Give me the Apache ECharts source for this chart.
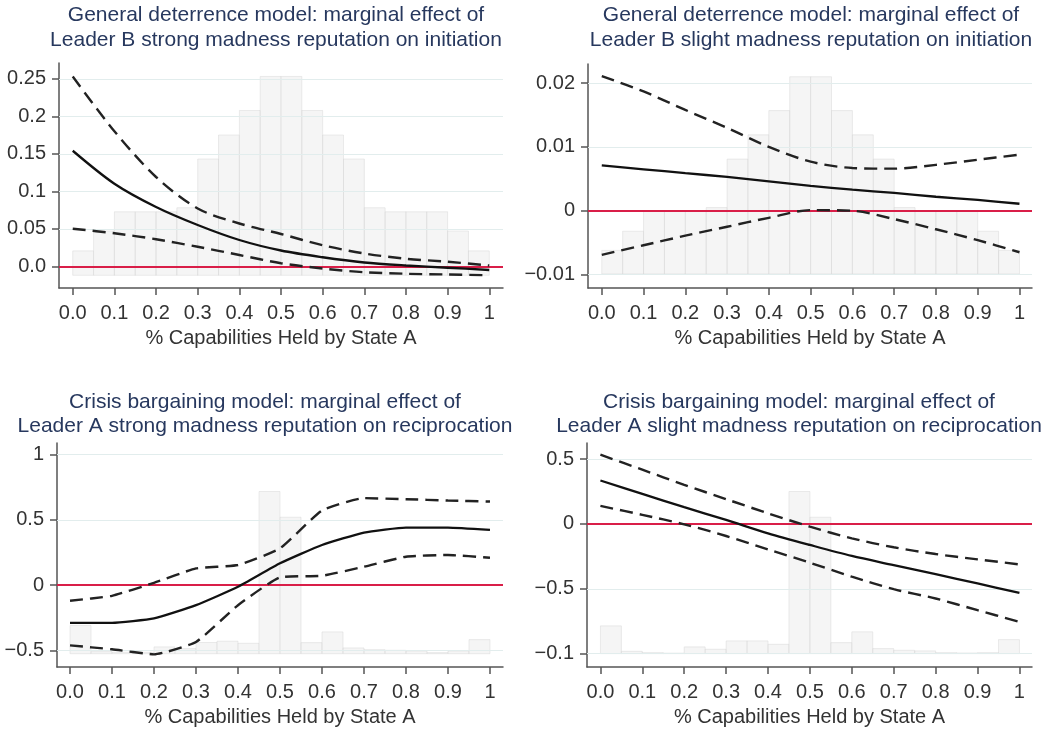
<!DOCTYPE html>
<html>
<head>
  <meta charset="utf-8">
  <title></title>
  <script src="https://cdn.jsdelivr.net/npm/echarts@6/dist/echarts.min.js"></script>
  <style>
    html, body {
      margin: 0;
      padding: 0;
      background: #fff;
    }

    #main {
      width: 1061px;
      height: 732px;
    }
  </style>
</head>
<body>
<div id="main"></div>
<script>
  // x positions of the fitted points
  var xs = [0, 0.1, 0.2, 0.3, 0.4, 0.5, 0.6, 0.7, 0.8, 0.9, 1];
  var xTicks = [0, 0.1, 0.2, 0.3, 0.4, 0.5, 0.6, 0.7, 0.8, 0.9, 1];
  var xTickLabels = ['0.0', '0.1', '0.2', '0.3', '0.4', '0.5', '0.6', '0.7', '0.8', '0.9', '1'];
  var xName = '% Capabilities Held by State A';

  // histogram bins (width 0.05)
  var binWidth = 0.05;
  var binStarts = [0, 0.05, 0.1, 0.15, 0.2, 0.25, 0.3, 0.35, 0.4, 0.45,
    0.5, 0.55, 0.6, 0.65, 0.7, 0.75, 0.8, 0.85, 0.9, 0.95];

  // panel 1 - general deterrence, strong
  var title1 = ['General deterrence model: marginal effect of', 'Leader B strong madness reputation on initiation'];
  var yTicks1 = [0, 0.05, 0.1, 0.15, 0.2, 0.25];
  var yLabels1 = ['0.0', '0.05', '0.1', '0.15', '0.2', '0.25'];
  var fit1 = [0.154, 0.110, 0.079, 0.055, 0.035, 0.021, 0.012, 0.005, 0.001, -0.002, -0.005];
  var hi1 = [0.253, 0.180, 0.119, 0.077, 0.057, 0.043, 0.028, 0.017, 0.010, 0.006, 0.001];
  var lo1 = [0.050, 0.044, 0.036, 0.026, 0.015, 0.004, -0.003, -0.008, -0.010, -0.011, -0.012];
  var hist1 = [0.0205, 0.047, 0.0726, 0.0726, 0.0726, 0.078, 0.143, 0.175, 0.2077, 0.2531,
    0.2531, 0.2077, 0.175, 0.143, 0.078, 0.0726, 0.0726, 0.0726, 0.047, 0.0205];
  var histBase1 = -0.012;

  // panel 2 - general deterrence, slight
  var title2 = ['General deterrence model: marginal effect of', 'Leader B slight madness reputation on initiation'];
  var yTicks2 = [-0.01, 0, 0.01, 0.02];
  var yLabels2 = ['\u22120.01', '0', '0.01', '0.02'];
  var fit2 = [0.0071, 0.0065, 0.0059, 0.0053, 0.0046, 0.0039, 0.0033, 0.0028, 0.0022, 0.0017, 0.0011];
  var hi2 = [0.0211, 0.0187, 0.0158, 0.0130, 0.0100, 0.0077, 0.0067, 0.0066, 0.0072, 0.0080, 0.0088];
  var lo2 = [-0.0069, -0.0054, -0.0039, -0.0025, -0.0011, 0.0001, 0.0000, -0.0013, -0.0029, -0.0046, -0.0065];
  var hist2 = [-0.0062, -0.0032, -0.0001, -0.0001, -0.0001, 0.0005, 0.0081, 0.0119, 0.0157, 0.0210,
    0.0210, 0.0157, 0.0119, 0.0081, 0.0005, -0.0001, -0.0001, -0.0001, -0.0032, -0.0062];
  var histBase2 = -0.0099;

  // panel 3 - crisis bargaining, strong
  var title3 = ['Crisis bargaining model: marginal effect of', 'Leader A strong madness reputation on reciprocation'];
  var yTicks3 = [-0.5, 0, 0.5, 1];
  var yLabels3 = ['\u22120.5', '0', '0.5', '1'];
  var fit3 = [-0.29, -0.29, -0.256, -0.154, -0.013, 0.167, 0.308, 0.403, 0.441, 0.441, 0.423];
  var hi3 = [-0.12, -0.082, 0.018, 0.128, 0.154, 0.282, 0.572, 0.667, 0.659, 0.649, 0.641];
  var lo3 = [-0.462, -0.492, -0.531, -0.436, -0.154, 0.059, 0.072, 0.141, 0.218, 0.231, 0.21];
  var hist3 = [-0.31, -0.51, -0.515, -0.515, -0.474, -0.487, -0.44, -0.43, -0.446, 0.718,
    0.521, -0.441, -0.359, -0.482, -0.495, -0.5, -0.505, -0.518, -0.505, -0.418];
  var histBase3 = -0.526;

  // panel 4 - crisis bargaining, slight
  var title4 = ['Crisis bargaining model: marginal effect of', 'Leader A slight madness reputation on reciprocation'];
  var yTicks4 = [-1, -0.5, 0, 0.5];
  var yLabels4 = ['\u22120.1', '\u22120.5', '0', '0.5'];
  var fit4 = [0.335, 0.232, 0.129, 0.031, -0.072, -0.162, -0.247, -0.317, -0.387, -0.459, -0.531];
  var hi4 = [0.534, 0.418, 0.302, 0.191, 0.082, -0.021, -0.111, -0.18, -0.232, -0.273, -0.312];
  var lo4 = [0.139, 0.07, -0.003, -0.093, -0.196, -0.299, -0.407, -0.503, -0.575, -0.665, -0.755];
  var hist4 = [-0.786, -0.982, -0.992, -0.996, -0.948, -0.966, -0.902, -0.902, -0.928, 0.25,
    0.052, -0.915, -0.832, -0.961, -0.974, -0.979, -0.992, -0.995, -0.992, -0.892];
  var histBase4 = -1.0;

  var fontFamily = '"Liberation Sans", Arial, sans-serif';
  var axisColor = '#555';
  var labelColor = '#333';
  var titleColor = '#27385e';
  var zeroColor = '#d91e48';
  var gridColor = '#e2eded';

  // layout of the four plots
  var panels = [
    {grid: {left: 59, top: 63, width: 444, height: 225}, xr: [-0.033, 1.033], yr: [-0.029, 0.271],
      title: title1, tx: 276, ty: [15, 40], yTicks: yTicks1, yLabels: yLabels1,
      fit: fit1, hi: hi1, lo: lo1, hist: hist1, base: histBase1, smooth: 0.3},
    {grid: {left: 588, top: 64, width: 444, height: 224}, xr: [-0.033, 1.03], yr: [-0.0121, 0.023],
      title: title2, tx: 811, ty: [15, 40], yTicks: yTicks2, yLabels: yLabels2,
      fit: fit2, hi: hi2, lo: lo2, hist: hist2, base: histBase2, smooth: 0.3},
    {grid: {left: 57, top: 443, width: 446, height: 224}, xr: [-0.031, 1.031], yr: [-0.628, 1.09],
      title: title3, tx: 265, ty: [402, 426], yTicks: yTicks3, yLabels: yLabels3,
      fit: fit3, hi: hi3, lo: lo3, hist: hist3, base: histBase3, smooth: 0.15},
    {grid: {left: 587, top: 443, width: 445, height: 224}, xr: [-0.032, 1.03], yr: [-1.103, 0.624],
      title: title4, tx: 799, ty: [402, 426], yTicks: yTicks4, yLabels: yLabels4,
      fit: fit4, hi: hi4, lo: lo4, hist: hist4, base: histBase4, smooth: 0.3}
  ];

  function lookup(ticks, labels) {
    return function (v) {
      for (var k = 0; k < ticks.length; k++) {
        if (Math.abs(ticks[k] - v) < 1e-9) return labels[k];
      }
      return '';
    };
  }

  function pairs(arr) {
    return xs.map(function (x, k) {
      return [x, arr[k]];
    });
  }

  var option = {
    animation: false,
    backgroundColor: '#fff',
    textStyle: {fontFamily: fontFamily},
    grid: [], xAxis: [], yAxis: [], series: [], graphic: []
  };

  panels.forEach(function (p, i) {
    option.grid.push(p.grid);
    option.xAxis.push({
      type: 'value', gridIndex: i, min: p.xr[0], max: p.xr[1],
      name: xName, nameLocation: 'middle', nameGap: 40,
      nameTextStyle: {fontSize: 20, color: labelColor, fontFamily: fontFamily},
      axisLine: {show: true, onZero: false, lineStyle: {color: axisColor, width: 1.5}},
      axisTick: {show: true, length: 7, customValues: xTicks, lineStyle: {color: axisColor, width: 1.5}},
      axisLabel: {customValues: xTicks, formatter: lookup(xTicks, xTickLabels),
        fontSize: 20, color: labelColor, margin: 15, fontFamily: fontFamily},
      splitLine: {show: false}
    });
    option.yAxis.push({
      type: 'value', gridIndex: i, min: p.yr[0], max: p.yr[1],
      axisLine: {show: true, onZero: false, lineStyle: {color: axisColor, width: 1.5}},
      axisTick: {show: true, length: 7, customValues: p.yTicks, lineStyle: {color: axisColor, width: 1.5}},
      axisLabel: {customValues: p.yTicks, formatter: lookup(p.yTicks, p.yLabels),
        fontSize: 20, color: labelColor, margin: 13, fontFamily: fontFamily},
      splitLine: {show: false}
    });

    var base = p.base;
    // histogram in the background
    option.series.push({
      type: 'custom', xAxisIndex: i, yAxisIndex: i, z: 3,
      data: binStarts.map(function (b, k) {
        return [b, p.hist[k], base];
      }),
      encode: {x: 0, y: [1, 2]},
      renderItem: function (params, api) {
        var x0 = api.value(0);
        var a = api.coord([x0, base]);
        var b = api.coord([x0 + binWidth, api.value(1)]);
        return {
          type: 'rect',
          shape: {x: a[0], y: b[1], width: b[0] - a[0], height: a[1] - b[1]},
          style: {fill: 'rgba(236,236,236,0.5)', stroke: 'rgba(212,212,212,0.45)', lineWidth: 1}
        };
      }
    });
    // horizontal gridlines at the y ticks
    option.series.push({
      type: 'line', xAxisIndex: i, yAxisIndex: i, z: 1, data: [],
      markLine: {
        silent: true, symbol: 'none', label: {show: false},
        lineStyle: {color: gridColor, width: 1, type: 'solid'},
        data: p.yTicks.map(function (v) {
          return {yAxis: v};
        })
      }
    });
    // zero reference line
    option.series.push({
      type: 'line', xAxisIndex: i, yAxisIndex: i, z: 2, data: [],
      markLine: {
        silent: true, symbol: 'none', label: {show: false},
        lineStyle: {color: zeroColor, width: 2.2, type: 'solid'},
        data: [{yAxis: 0}]
      }
    });
    // confidence bounds and marginal effect
    [p.hi, p.lo].forEach(function (arr) {
      option.series.push({
        type: 'line', xAxisIndex: i, yAxisIndex: i, z: 5,
        data: pairs(arr), symbol: 'none', smooth: p.smooth,
        lineStyle: {color: '#222', width: 2.4, type: [13, 7]}
      });
    });
    option.series.push({
      type: 'line', xAxisIndex: i, yAxisIndex: i, z: 6,
      data: pairs(p.fit), symbol: 'none', smooth: p.smooth,
      lineStyle: {color: '#111', width: 2.3}
    });

    p.title.forEach(function (line, k) {
      option.graphic.push({
        type: 'text', x: p.tx, y: p.ty[k],
        style: {
          text: line, fill: titleColor, align: 'center', verticalAlign: 'middle',
          font: '21px ' + fontFamily
        }
      });
    });
  });

  var chart = echarts.init(document.getElementById('main'));
  chart.setOption(option);
  window.onresize = function () {
    chart.resize();
  };
</script>
</body>
</html>
